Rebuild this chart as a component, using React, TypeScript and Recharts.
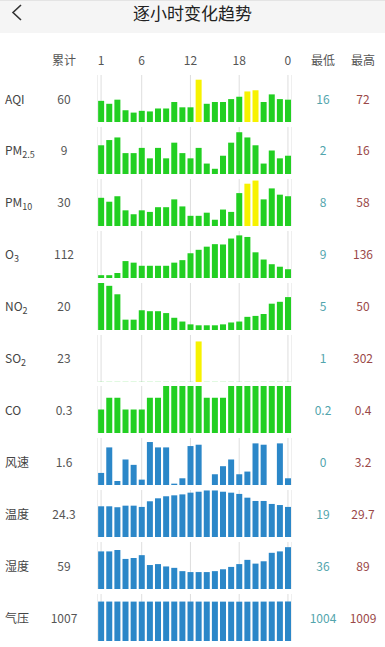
import React from "react";
import { BarChart, Bar, XAxis, YAxis, CartesianGrid, Cell } from "recharts";

const hours = [
  "1", "2", "3", "4", "5", "6", "7", "8", "9", "10", "11", "12",
  "13", "14", "15", "16", "17", "18", "19", "20", "21", "22", "23", "0",
];
const tickHours = ["1", "6", "12", "18", "0"];

const aqi = [36, 31, 38, 20, 16, 19, 18, 23, 23, 34, 25, 25, 72, 31, 34, 34, 39, 43, 52, 54, 34, 47, 39, 38];
const pm25 = [11, 13, 14, 8, 8, 10, 6, 10, 6, 12, 8, 6, 10, 4, 2, 7, 12, 16, 14, 11, 4, 9, 6, 7];
const pm10 = [36, 31, 38, 20, 15, 20, 18, 24, 24, 34, 25, 13, 13, 17, 8, 21, 18, 42, 54, 58, 34, 48, 40, 38];
const o3 = [9, 9, 16, 54, 49, 39, 39, 39, 39, 49, 57, 79, 90, 100, 108, 107, 126, 136, 131, 82, 59, 44, 36, 28];
const no2 = [50, 47, 38, 11, 11, 21, 20, 20, 18, 13, 9, 6, 5, 5, 5, 6, 8, 9, 14, 15, 17, 28, 30, 35];
const so2 = [1, 1, 1, 1, 1, 1, 1, 1, 1, 1, 1, 1, 302, 1, 1, 1, 1, 1, 1, 1, 1, 1, 1, 1];
const co = [0.2, 0.3, 0.3, 0.2, 0.2, 0.2, 0.3, 0.3, 0.4, 0.4, 0.4, 0.4, 0.4, 0.3, 0.3, 0.3, 0.4, 0.4, 0.4, 0.4, 0.4, 0.4, 0.4, 0.4];
const wind = [0.9, 2.8, 0.3, 1.9, 1.5, 0.4, 3.2, 2.8, 2.8, 0.1, 0.5, 2.9, 3.0, 0, 0.8, 1.4, 1.9, 0.8, 1.0, 3.1, 3.0, 0, 3.1, 0.5];
const temp = [19.6, 19.6, 19, 20, 20, 19.2, 22.8, 24.7, 26, 26.6, 27.2, 28.3, 28.9, 29.7, 29.7, 28.9, 28.3, 27.5, 25.1, 23, 23, 21.1, 20.4, 19.2];
const humidity = [80, 80, 83, 64, 66, 72, 51, 53, 48, 45, 38, 36, 36, 36, 38, 42, 47, 53, 62, 54, 59, 77, 80, 89];
const pressure = [1007, 1007, 1007, 1006, 1006, 1006, 1006, 1006, 1007, 1007, 1007, 1007, 1006, 1006, 1005, 1005, 1004, 1004, 1004, 1005, 1006, 1007, 1008, 1009];

const totals = ["60", "9", "30", "112", "20", "23", "0.3", "1.6", "24.3", "59", "1007"];

const GREEN = "#22cf22";
const YELLOW = "#f7f200";
const BLUE = "#2b87c8";
const FONT = '"Noto Sans CJK SC", "Noto Sans", sans-serif';

type Row = {
  label: React.ReactNode;
  values: number[];
  limit?: number; // above this the bar turns yellow
  color: string;
};

const sub = (t: string) => <sub style={{ fontSize: 9, verticalAlign: -3 }}>{t}</sub>;

const rows: Row[] = [
  { label: "AQI", values: aqi, limit: 50, color: GREEN },
  { label: <>PM{sub("2.5")}</>, values: pm25, limit: 35, color: GREEN },
  { label: <>PM{sub("10")}</>, values: pm10, limit: 50, color: GREEN },
  { label: <>O{sub("3")}</>, values: o3, limit: 160, color: GREEN },
  { label: <>NO{sub("2")}</>, values: no2, limit: 100, color: GREEN },
  { label: <>SO{sub("2")}</>, values: so2, limit: 150, color: GREEN },
  { label: "CO", values: co, limit: 5, color: GREEN },
  { label: "风速", values: wind, color: BLUE },
  { label: "温度", values: temp, color: BLUE },
  { label: "湿度", values: humidity, color: BLUE },
  { label: "气压", values: pressure, color: BLUE },
];

// round the axis top up like an echarts value axis (5 splits)
const niceMax = (max: number) => {
  const raw = max / 5;
  const exp = Math.pow(10, Math.floor(Math.log10(raw)));
  const f = raw / exp;
  const nf = f < 1.5 ? 1 : f < 2.5 ? 2 : f < 4 ? 3 : f < 7 ? 5 : 10;
  const step = nf * exp;
  return Math.ceil(Math.round((max / step) * 1e6) / 1e6) * step;
};

const PLOT_H = 47;
const CHART_W = 195;
const FIRST_BASE = 122;
const PITCH = 51.9;
const AXIS_H = 30;

const HourBars = ({ row, withAxis }: { row: Row; withAxis: boolean }) => {
  const data = hours.map((h, i) => ({ hour: h, value: row.values[i] }));
  const top = niceMax(Math.max(...row.values));
  return (
    <BarChart
      width={CHART_W}
      height={PLOT_H + (withAxis ? AXIS_H : 0)}
      data={data}
      margin={{ top: 0, right: 0, bottom: 0, left: 0 }}
      barCategoryGap="14%"
    >
      <CartesianGrid horizontal={false} stroke="#dedede" />
      <XAxis
        dataKey="hour"
        orientation="top"
        hide={!withAxis}
        height={AXIS_H}
        ticks={tickHours}
        interval={0}
        axisLine={false}
        tickLine={false}
        tickMargin={4}
        tick={{ fontSize: 12, fill: "#555", fontFamily: FONT }}
      />
      <YAxis hide domain={[0, top]} />
      <Bar dataKey="value" isAnimationActive={false}>
        {data.map((d, i) => (
          <Cell
            key={i}
            fill={row.limit !== undefined && d.value > row.limit ? YELLOW : row.color}
          />
        ))}
      </Bar>
    </BarChart>
  );
};

const colText = (left: number, width: number): React.CSSProperties => ({
  position: "absolute",
  left,
  width,
  textAlign: "center",
});

export default function App() {
  return (
    <div
      style={{
        position: "absolute",
        left: 0,
        top: 0,
        width: 385,
        height: 647,
        background: "#fff",
        overflow: "hidden",
        fontFamily: FONT,
      }}
    >
      {/* title bar */}
      <div
        style={{
          position: "absolute",
          left: 0,
          top: 0,
          width: 385,
          height: 32,
          background: "#f5f5f5",
          borderTop: "1px solid #e4e4e4",
        }}
      >
        <svg width={24} height={24} style={{ position: "absolute", left: 6, top: 0 }}>
          <polyline points="15,4 7,11.5 15,19" fill="none" stroke="#333" strokeWidth={1.6} />
        </svg>
        <div
          style={{
            position: "absolute",
            left: 0,
            width: 385,
            top: 0,
            textAlign: "center",
            fontSize: 17,
            lineHeight: "24px",
            color: "#222",
          }}
        >
          逐小时变化趋势
        </div>
      </div>

      {/* column heads */}
      <div style={{ position: "absolute", top: 50, height: 20, width: 385, fontSize: 12, lineHeight: "20px", color: "#555" }}>
        <div style={colText(44, 40)}>累计</div>
        <div style={colText(303, 40)}>最低</div>
        <div style={colText(343, 40)}>最高</div>
      </div>

      {rows.map((row, i) => {
        const base = FIRST_BASE + PITCH * i;
        const withAxis = i === 0;
        return (
          <React.Fragment key={i}>
            <div
              style={{
                position: "absolute",
                left: 97,
                top: base - PLOT_H - (withAxis ? AXIS_H : 0),
              }}
            >
              <HourBars row={row} withAxis={withAxis} />
            </div>
            <div
              style={{
                position: "absolute",
                top: base - PLOT_H / 2 - 10,
                height: 20,
                width: 385,
                fontSize: 12,
                lineHeight: "20px",
              }}
            >
              <div style={{ position: "absolute", left: 5, color: "#444" }}>{row.label}</div>
              <div style={{ ...colText(44, 40), color: "#555" }}>{totals[i]}</div>
              <div style={{ ...colText(303, 40), color: "#52a5ad" }}>{Math.min(...row.values)}</div>
              <div style={{ ...colText(343, 40), color: "#9a4848" }}>{Math.max(...row.values)}</div>
            </div>
          </React.Fragment>
        );
      })}
    </div>
  );
}
